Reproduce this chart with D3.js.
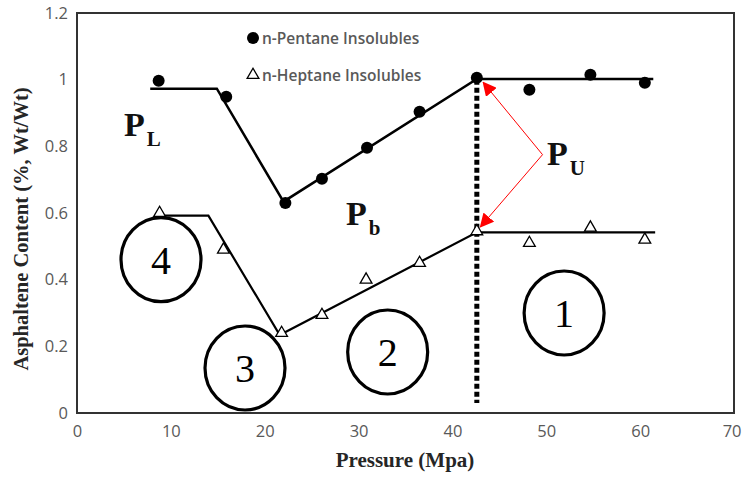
<!DOCTYPE html>
<html>
<head>
<meta charset="utf-8">
<script src="https://cdn.jsdelivr.net/npm/d3@7"></script>
<style>
  body { margin: 0; background: #fff; }
</style>
</head>
<body>
<div id="chart"></div>
<script>
// measured points
let pentaneP = [8.7, 15.9, 22.2, 26.1, 30.9, 36.5, 42.6, 48.2, 54.7, 60.5];
let pentaneC = [0.997, 0.949, 0.630, 0.703, 0.796, 0.904, 1.006, 0.970, 1.015, 0.991];
let heptaneP = [8.8, 15.6, 21.8, 26.1, 30.8, 36.5, 42.6, 48.2, 54.7, 60.5];
let heptaneC = [0.600, 0.490, 0.240, 0.294, 0.400, 0.450, 0.545, 0.510, 0.556, 0.520];

// piecewise trend lines
let pentaneTrendP = [7.8, 14.9, 22.0, 42.6, 61.4];
let pentaneTrendC = [0.973, 0.973, 0.634, 1.002, 1.002];
let heptaneTrendP = [8.3, 14.0, 21.6, 42.6, 61.6];
let heptaneTrendC = [0.592, 0.592, 0.234, 0.542, 0.542];

// upper onset pressure marker
let onsetP = 42.6;
let onsetTop = 1.0;
let onsetBottom = 0.03;

// numbered regions
let regionLabels = ["4", "3", "2", "1"];
let regionP = [8.95, 17.9, 33.1, 51.9];
let regionC = [0.46, 0.135, 0.183, 0.30];

let xTicks = [0, 10, 20, 30, 40, 50, 60, 70];
let yTicks = [0, 0.2, 0.4, 0.6, 0.8, 1, 1.2];

let W = 742, H = 477;
let margin = {left: 77, right: 8, top: 13, bottom: 64};

let svg = d3.select("#chart").append("svg")
    .attr("width", W)
    .attr("height", H);

let x = d3.scaleLinear().domain([0, 70]).range([margin.left, W - margin.right]);
let y = d3.scaleLinear().domain([0, 1.2]).range([H - margin.bottom, margin.top]);

// frame
svg.append("rect")
    .attr("x", x(0)).attr("y", y(1.2))
    .attr("width", x(70) - x(0)).attr("height", y(0) - y(1.2))
    .style("fill", "none").style("stroke", "#333").style("stroke-width", 2);

// axes, labels only
let xAxis = svg.append("g")
    .attr("transform", "translate(0," + y(0) + ")")
    .call(d3.axisBottom(x).tickValues(xTicks).tickSize(0).tickPadding(12));
let yAxis = svg.append("g")
    .attr("transform", "translate(" + x(0) + ",0)")
    .call(d3.axisLeft(y).tickValues(yTicks).tickSize(0).tickPadding(9).tickFormat(d3.format("")));
[xAxis, yAxis].forEach(function(g) {
    g.select(".domain").remove();
    g.selectAll("text")
        .style("font-family", "'Open Sans', sans-serif")
        .style("font-size", "16.5px")
        .style("fill", "#595959");
});
// last x label sits at the page edge: keep it inside
xAxis.selectAll(".tick").filter(d => d === 70).select("text")
    .attr("text-anchor", "end").attr("x", W - 1 - x(70));

// axis titles
svg.append("text")
    .attr("x", 405).attr("y", 467)
    .attr("text-anchor", "middle")
    .style("font-family", "'Liberation Serif', 'Times New Roman', serif")
    .style("font-weight", "bold")
    .style("font-size", "21px")
    .style("fill", "#262626")
    .text("Pressure (Mpa)");

svg.append("text")
    .attr("transform", "translate(28,229) rotate(-90)")
    .attr("text-anchor", "middle")
    .style("font-family", "'Liberation Serif', 'Times New Roman', serif")
    .style("font-weight", "bold")
    .style("font-size", "20.5px")
    .style("fill", "#262626")
    .text("Asphaltene Content (%, Wt/Wt)");

// region circles
regionLabels.forEach(function(lab, i) {
    svg.append("ellipse")
        .attr("cx", x(regionP[i])).attr("cy", y(regionC[i]))
        .attr("rx", 40).attr("ry", 42)
        .style("fill", "none").style("stroke", "#000").style("stroke-width", 3.2);
    svg.append("text")
        .attr("x", x(regionP[i])).attr("y", y(regionC[i]) + 14)
        .attr("text-anchor", "middle")
        .style("font-family", "'Liberation Serif', 'Times New Roman', serif")
        .style("font-size", "40px")
        .style("fill", "#000")
        .text(lab);
});

// trend lines
let line = d3.line().x(d => x(d[0])).y(d => y(d[1]));
svg.append("path")
    .datum(d3.zip(pentaneTrendP, pentaneTrendC))
    .attr("d", line)
    .style("fill", "none").style("stroke", "#000").style("stroke-width", 2.5);
svg.append("path")
    .datum(d3.zip(heptaneTrendP, heptaneTrendC))
    .attr("d", line)
    .style("fill", "none").style("stroke", "#000").style("stroke-width", 2.2);

// dashed onset line
svg.append("line")
    .attr("x1", x(onsetP)).attr("x2", x(onsetP))
    .attr("y1", y(onsetTop)).attr("y2", y(onsetBottom))
    .style("stroke", "#000").style("stroke-width", 5)
    .style("stroke-dasharray", "5,3");

// points
svg.append("g").selectAll("circle")
    .data(d3.zip(pentaneP, pentaneC))
    .enter().append("circle")
    .attr("cx", d => x(d[0])).attr("cy", d => y(d[1]))
    .attr("r", 6)
    .style("fill", "#000");

let tri = d3.symbol().type(d3.symbolTriangle).size(60);
svg.append("g").selectAll("path")
    .data(d3.zip(heptaneP, heptaneC))
    .enter().append("path")
    .attr("transform", d => "translate(" + x(d[0]) + "," + y(d[1]) + ")")
    .attr("d", tri)
    .style("fill", "#fff").style("stroke", "#000").style("stroke-width", 1.3);

// red arrows to P_U
svg.append("defs").append("marker")
    .attr("id", "redArrow")
    .attr("viewBox", "0 0 10 10")
    .attr("markerWidth", 14).attr("markerHeight", 14)
    .attr("markerUnits", "userSpaceOnUse")
    .attr("refX", 9).attr("refY", 5)
    .attr("orient", "auto")
    .append("path")
    .attr("d", "M0,0 L10,5 L0,10 z")
    .style("fill", "red");

let vertex = [49.6, 0.775];
[[43.3, 0.991], [43.0, 0.559]].forEach(function(t) {
    svg.append("line")
        .attr("x1", x(vertex[0])).attr("y1", y(vertex[1]))
        .attr("x2", x(t[0])).attr("y2", y(t[1]))
        .style("stroke", "red").style("stroke-width", 1)
        .attr("marker-end", "url(#redArrow)");
});

// P labels
function pLabel(px, py, sub) {
    let t = svg.append("text")
        .attr("x", px).attr("y", py)
        .style("font-family", "'Liberation Serif', 'Times New Roman', serif")
        .style("font-weight", "bold")
        .style("fill", "#111");
    t.append("tspan").style("font-size", "34px").text("P");
    t.append("tspan").attr("dx", 2).attr("dy", 10).style("font-size", "21px").text(sub);
}
pLabel(124, 136, "L");
pLabel(346, 225, "b");
pLabel(547, 165, "U");

// legend
let legendFont = "'Open Sans', sans-serif";
svg.append("circle").attr("cx", 253).attr("cy", 38).attr("r", 6).style("fill", "#000");
svg.append("text")
    .attr("x", 262).attr("y", 44)
    .style("font-family", legendFont).style("font-size", "15.5px").style("font-weight", 600)
    .style("fill", "#595959")
    .text("n-Pentane Insolubles");
svg.append("path")
    .attr("transform", "translate(253,75)")
    .attr("d", tri)
    .style("fill", "#fff").style("stroke", "#000").style("stroke-width", 1.3);
svg.append("text")
    .attr("x", 262).attr("y", 81)
    .style("font-family", legendFont).style("font-size", "15.5px").style("font-weight", 600)
    .style("fill", "#595959")
    .text("n-Heptane Insolubles");
</script>
</body>
</html>
